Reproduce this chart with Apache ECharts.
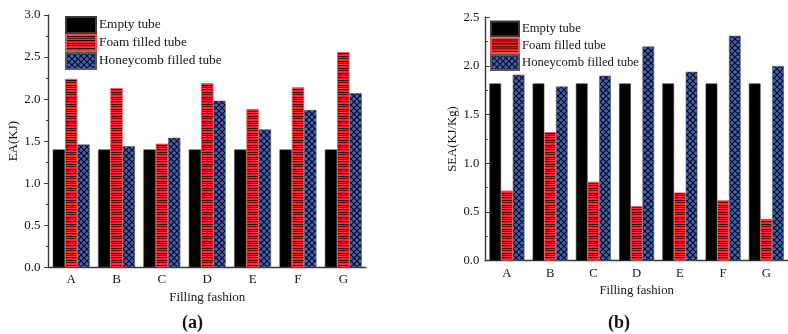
<!DOCTYPE html>
<html>
<head>
<meta charset="utf-8">
<script src="https://cdn.jsdelivr.net/npm/echarts@6/dist/echarts.min.js"></script>
<style>
  html, body { margin: 0; padding: 0; background: #fff; }
  #chart { width: 788px; height: 334px; }
</style>
</head>
<body>
<div id="chart"></div>
<script>
// Filling fashions compared in both panels
const categories = ['A', 'B', 'C', 'D', 'E', 'F', 'G'];
const seriesNames = ['Empty tube', 'Foam filled tube', 'Honeycomb filled tube'];

// Panel (a): energy absorption, KJ
const eaEmpty = [1.40, 1.40, 1.40, 1.40, 1.40, 1.40, 1.40];
const eaFoam = [2.24, 2.13, 1.47, 2.19, 1.88, 2.14, 2.56];
const eaHoneycomb = [1.46, 1.44, 1.54, 1.98, 1.64, 1.87, 2.07];

// Panel (b): specific energy absorption, KJ/Kg
const seaEmpty = [1.82, 1.82, 1.82, 1.82, 1.82, 1.82, 1.82];
const seaFoam = [0.72, 1.32, 0.81, 0.56, 0.70, 0.62, 0.43];
const seaHoneycomb = [1.91, 1.79, 1.90, 2.20, 1.94, 2.31, 2.00];

const FONT = '"Liberation Serif", "Times New Roman", serif';
const TEXT = '#141414';
const AXIS = '#3a3a3a';

// Red fill crossed by thin dark horizontal stripes
function foamPattern() {
  const c = document.createElement('canvas');
  c.width = 4; c.height = 12;
  const g = c.getContext('2d');
  const rows = ['#ff2a2a', '#1a0000', '#f01818', '#8a0a0a', '#ff3030', '#220000',
                '#e81c1c', '#ff2a2a', '#300000', '#f52222', '#6e0606', '#ff2c2c'];
  rows.forEach((col, i) => { g.fillStyle = col; g.fillRect(0, i, 4, 1); });
  return { image: c, repeat: 'repeat' };
}

// Blue fill under a black diagonal lattice
function honeycombPattern() {
  const c = document.createElement('canvas');
  c.width = 6; c.height = 6;
  const g = c.getContext('2d');
  g.fillStyle = '#4262b3';
  g.fillRect(0, 0, 6, 6);
  g.strokeStyle = '#0a0a14';
  g.lineWidth = 1.05;
  g.beginPath();
  g.moveTo(-1, -1); g.lineTo(7, 7);
  g.moveTo(7, -1); g.lineTo(-1, 7);
  g.stroke();
  return { image: c, repeat: 'repeat' };
}

const foamFill = foamPattern();
const honeyFill = honeycombPattern();

const styles = [
  { color: '#000000', borderColor: '#3a3a3a', borderWidth: 0.6 },
  { color: foamFill, borderColor: '#ff4a4a', borderWidth: 0.8 },
  { color: honeyFill, borderColor: '#555a66', borderWidth: 0.6 }
];

function yAxisFor(gridIndex, name, max, tickInside, nameGap, fontSize) {
  return {
    type: 'value', gridIndex: gridIndex, min: 0, max: max, interval: 0.5,
    name: name, nameLocation: 'middle', nameGap: nameGap,
    nameTextStyle: { fontFamily: FONT, fontSize: fontSize, color: TEXT },
    axisLine: { show: true, lineStyle: { color: AXIS, width: 1.4 } },
    axisTick: { show: true, inside: tickInside, length: 4.5, lineStyle: { color: AXIS, width: 1 } },
    minorTick: { show: true, splitNumber: 2, length: 2.5, lineStyle: { color: AXIS, width: 1 } },
    splitLine: { show: false },
    axisLabel: {
      fontFamily: FONT, fontSize: fontSize, color: TEXT, margin: tickInside ? 6 : 8,
      formatter: v => v.toFixed(1)
    }
  };
}

function xAxisFor(gridIndex, nameGap, fontSize) {
  return {
    type: 'category', gridIndex: gridIndex, data: categories,
    name: 'Filling fashion', nameLocation: 'middle', nameGap: nameGap,
    nameTextStyle: { fontFamily: FONT, fontSize: fontSize, color: TEXT },
    axisLine: { show: true, lineStyle: { color: AXIS, width: 1.4 } },
    axisTick: { show: true, inside: true, alignWithLabel: true, length: 3, lineStyle: { color: AXIS } },
    axisLabel: { fontFamily: FONT, fontSize: fontSize, color: TEXT, margin: 6 }
  };
}

function barsFor(gridIndex, values, barWidth) {
  return values.map((data, i) => ({
    type: 'bar', name: seriesNames[i],
    xAxisIndex: gridIndex, yAxisIndex: gridIndex,
    data: data, barWidth: barWidth, barGap: '0%',
    itemStyle: styles[i],
    emphasis: { disabled: true }
  }));
}

function legendFor(left, top, w, h, fontSize) {
  return {
    orient: 'vertical', left: left, top: top, itemGap: 0,
    itemWidth: w, itemHeight: h, padding: 0,
    icon: 'rect', selectedMode: false,
    data: seriesNames,
    textStyle: { fontFamily: FONT, fontSize: fontSize, color: TEXT, lineHeight: h, padding: [0, 0, 0, -2] }
  };
}

const chart = echarts.init(document.getElementById('chart'), null, { renderer: 'canvas' });

chart.setOption({
  animation: false,
  backgroundColor: '#ffffff',
  grid: [
    { left: 48.5, top: 15, width: 317.5, height: 252.3 },
    { left: 485.3, top: 17.3, width: 306.4, height: 243.4 }
  ],
  xAxis: [xAxisFor(0, 21, 13), xAxisFor(1, 20, 12.7)],
  yAxis: [
    yAxisFor(0, 'EA(KJ)', 3, false, 26, 13),
    yAxisFor(1, 'SEA(KJ/Kg)', 2.5, true, 24, 12.7)
  ],
  legend: [legendFor(65, 16, 30, 16, 13.3), legendFor(490, 20.5, 28, 14.8, 12.7)],
  series: [].concat(
    barsFor(0, [eaEmpty, eaFoam, eaHoneycomb], 12.3),
    barsFor(1, [seaEmpty, seaFoam, seaHoneycomb], 11.67)
  ),
  graphic: [
    { type: 'text', left: 182, top: 314,
      style: { text: '(a)', fontFamily: FONT, fontSize: 18, fontWeight: 'bold', fill: TEXT } },
    { type: 'text', left: 608, top: 314,
      style: { text: '(b)', fontFamily: FONT, fontSize: 18, fontWeight: 'bold', fill: TEXT } }
  ]
});
</script>
</body>
</html>
